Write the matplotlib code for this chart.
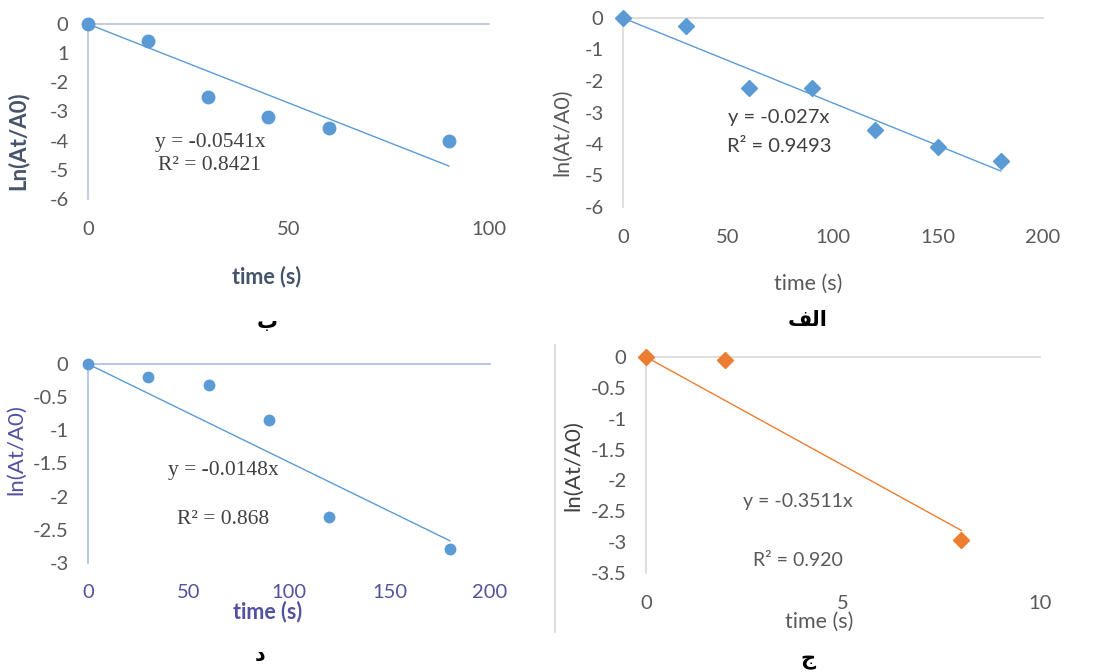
import numpy as np
import matplotlib
matplotlib.use('Agg')
import matplotlib.pyplot as plt
from matplotlib.lines import Line2D

# data
# panel "b" (top left)
t_b = [0, 15, 30, 45, 60, 90]
y_b = [0, -0.6, -2.5, -3.2, -3.55, -4.0]
slope_b = -0.0541
# panel "alef" (top right)
t_a = [0, 30, 60, 90, 120, 150, 180]
y_a = [0, -0.25, -2.23, -2.23, -3.57, -4.1, -4.55]
slope_a = -0.027
# panel "d" (bottom left)
t_d = [0, 30, 60, 90, 120, 180]
y_d = [0, -0.2, -0.32, -0.85, -2.3, -2.79]
slope_d = -0.0148
# panel "j" (bottom right)
t_j = [0, 2, 8]
y_j = [0, -0.05, -2.96]
slope_j = -0.3511

yticks_b = [0, -1, -2, -3, -4, -5, -6]
yticklabels_b = ['0', '1', '-2', '-3', '-4', '-5', '-6']
yticks_a = [0, -1, -2, -3, -4, -5, -6]
yticks_d = [0, -0.5, -1, -1.5, -2, -2.5, -3]
yticks_j = [0, -0.5, -1, -1.5, -2, -2.5, -3, -3.5]

W, H = 1116, 672
BLUE = '#5B9BD5'
ORANGE = '#ED7D31'
GRAY = '#595959'
SLATE = '#44546A'
PURPLE = '#5252A0'
SANS = ['Lato', 'DejaVu Sans']
SERIF = ['Liberation Serif', 'DejaVu Serif']

fig = plt.figure(figsize=(W / 100, H / 100), dpi=100)
fig.patch.set_facecolor('white')


def px(x, y):
    return x / W, 1 - y / H


def panel(box, t, y, slope, xmax, ymin, xticks, yticks, color, marker, ms,
          axcol, xtick_col=GRAY, xpad=12, yticklabels=None):
    x0, y0, x1, y1 = box
    ax = fig.add_axes([x0 / W, 1 - y1 / H, (x1 - x0) / W, (y1 - y0) / H])
    ax.set_xlim(0, xmax)
    ax.set_ylim(ymin, 0)
    for s in ['bottom', 'right']:
        ax.spines[s].set_visible(False)
    for s in ['top', 'left']:
        ax.spines[s].set_color(axcol)
        ax.spines[s].set_linewidth(1.2)
    ax.set_xticks(xticks)
    ax.set_yticks(yticks)
    if yticklabels is not None:
        ax.set_yticklabels(yticklabels)
    else:
        ax.set_yticklabels([('%g' % v) for v in yticks])
    ax.tick_params(axis='both', length=0, labelsize=14.5)
    ax.tick_params(axis='x', pad=xpad, labelcolor=xtick_col)
    ax.tick_params(axis='y', pad=14, labelcolor=GRAY)
    for lab in ax.get_xticklabels() + ax.get_yticklabels():
        lab.set_family(SANS)
    tt = np.array([0, t[-1]])
    ax.plot(tt, slope * tt, color=color, lw=1, clip_on=False, zorder=2)
    ax.plot(t, y, linestyle='none', marker=marker, ms=ms, color=color,
            clip_on=False, zorder=3)
    return ax


panel((88, 24, 489, 199), t_b, y_b, slope_b, 100, -6, [0, 50, 100],
      yticks_b, BLUE, 'o', 9, '#B4C3DE', xpad=16, yticklabels=yticklabels_b)
panel((623, 18, 1043, 207), t_a, y_a, slope_a, 200, -6, [0, 50, 100, 150, 200],
      yticks_a, BLUE, 'D', 8, '#D9D9D9', xpad=16)
panel((88, 364, 490, 563), t_d, y_d, slope_d, 200, -3, [0, 50, 100, 150, 200],
      yticks_d, BLUE, 'o', 7.5, '#A9BCE0', xtick_col=PURPLE, xpad=15)
panel((646, 357, 1040, 573), t_j, y_j, slope_j, 10, -3.5, [0, 5, 10],
      yticks_j, ORANGE, 'D', 8.5, '#D9D9D9', xpad=16)

# chart-area border on the left of the last panel
fig.add_artist(Line2D([555 / W, 555 / W], [1 - 345 / H, 1 - 632 / H],
                      color='#D9D9D9', lw=1.2))

# axis titles
fig.text(*px(18, 141), 'Ln(At/A0)', rotation=90, ha='center', va='center',
         fontsize=16, fontweight='bold', color=SLATE, family=SANS)
fig.text(*px(267, 277), 'time (s)', ha='center', va='center',
         fontsize=15.5, fontweight='bold', color=SLATE, family=SANS)
fig.text(*px(562, 132), 'ln(At/A0)', rotation=90, ha='center', va='center',
         fontsize=15.5, color=GRAY, family=SANS)
fig.text(*px(808, 284), 'time (s)', ha='center', va='center',
         fontsize=15.5, color=GRAY, family=SANS)
fig.text(*px(16, 450), 'ln(At/A0)', rotation=90, ha='center', va='center',
         fontsize=16, color=PURPLE, family=SANS)
fig.text(*px(268, 612), 'time (s)', ha='center', va='center',
         fontsize=15.5, fontweight='bold', color=PURPLE, family=SANS)
fig.text(*px(573, 466), 'ln(At/A0)', rotation=90, ha='center', va='center',
         fontsize=16, color='#404040', family=SANS)
fig.text(*px(819, 622), 'time (s)', ha='center', va='center',
         fontsize=15.5, color=GRAY, family=SANS)

# trendline equations
fig.text(*px(210, 142), 'y = -0.0541x', ha='center', va='center',
         fontsize=15.5, color='#404040', family=SERIF)
fig.text(*px(209, 166), 'R² = 0.8421', ha='center', va='center',
         fontsize=15.5, color='#404040', family=SERIF)
fig.text(*px(779, 118), 'y = -0.027x', ha='center', va='center',
         fontsize=14.5, color='#404040', family=SANS)
fig.text(*px(779, 146), 'R² = 0.9493', ha='center', va='center',
         fontsize=14.5, color='#404040', family=SANS)
fig.text(*px(223, 471), 'y = -0.0148x', ha='center', va='center',
         fontsize=15.5, color='#404040', family=SERIF)
fig.text(*px(223, 520), 'R² = 0.868', ha='center', va='center',
         fontsize=15.5, color='#404040', family=SERIF)
fig.text(*px(798, 502), 'y = -0.3511x', ha='center', va='center',
         fontsize=14, color=GRAY, family=SANS)
fig.text(*px(798, 560), 'R² = 0.920', ha='center', va='center',
         fontsize=14, color=GRAY, family=SANS)

# Arabic panel captions (presentation forms, visual order, since
# matplotlib does not shape Arabic)
captions = ['\uFE8F', '\uFED2\uFEDF\uFE8D', '\uFEA9', '\uFE9D']
cap_pos = [(267, 322), (808, 320), (260, 655), (808, 660)]
for c, (cx, cy) in zip(captions, cap_pos):
    fig.text(*px(cx, cy), c, ha='center', va='center', fontsize=15,
             fontweight='bold', color='black', family=['DejaVu Sans'])

fig.savefig('out.png', dpi=100)
